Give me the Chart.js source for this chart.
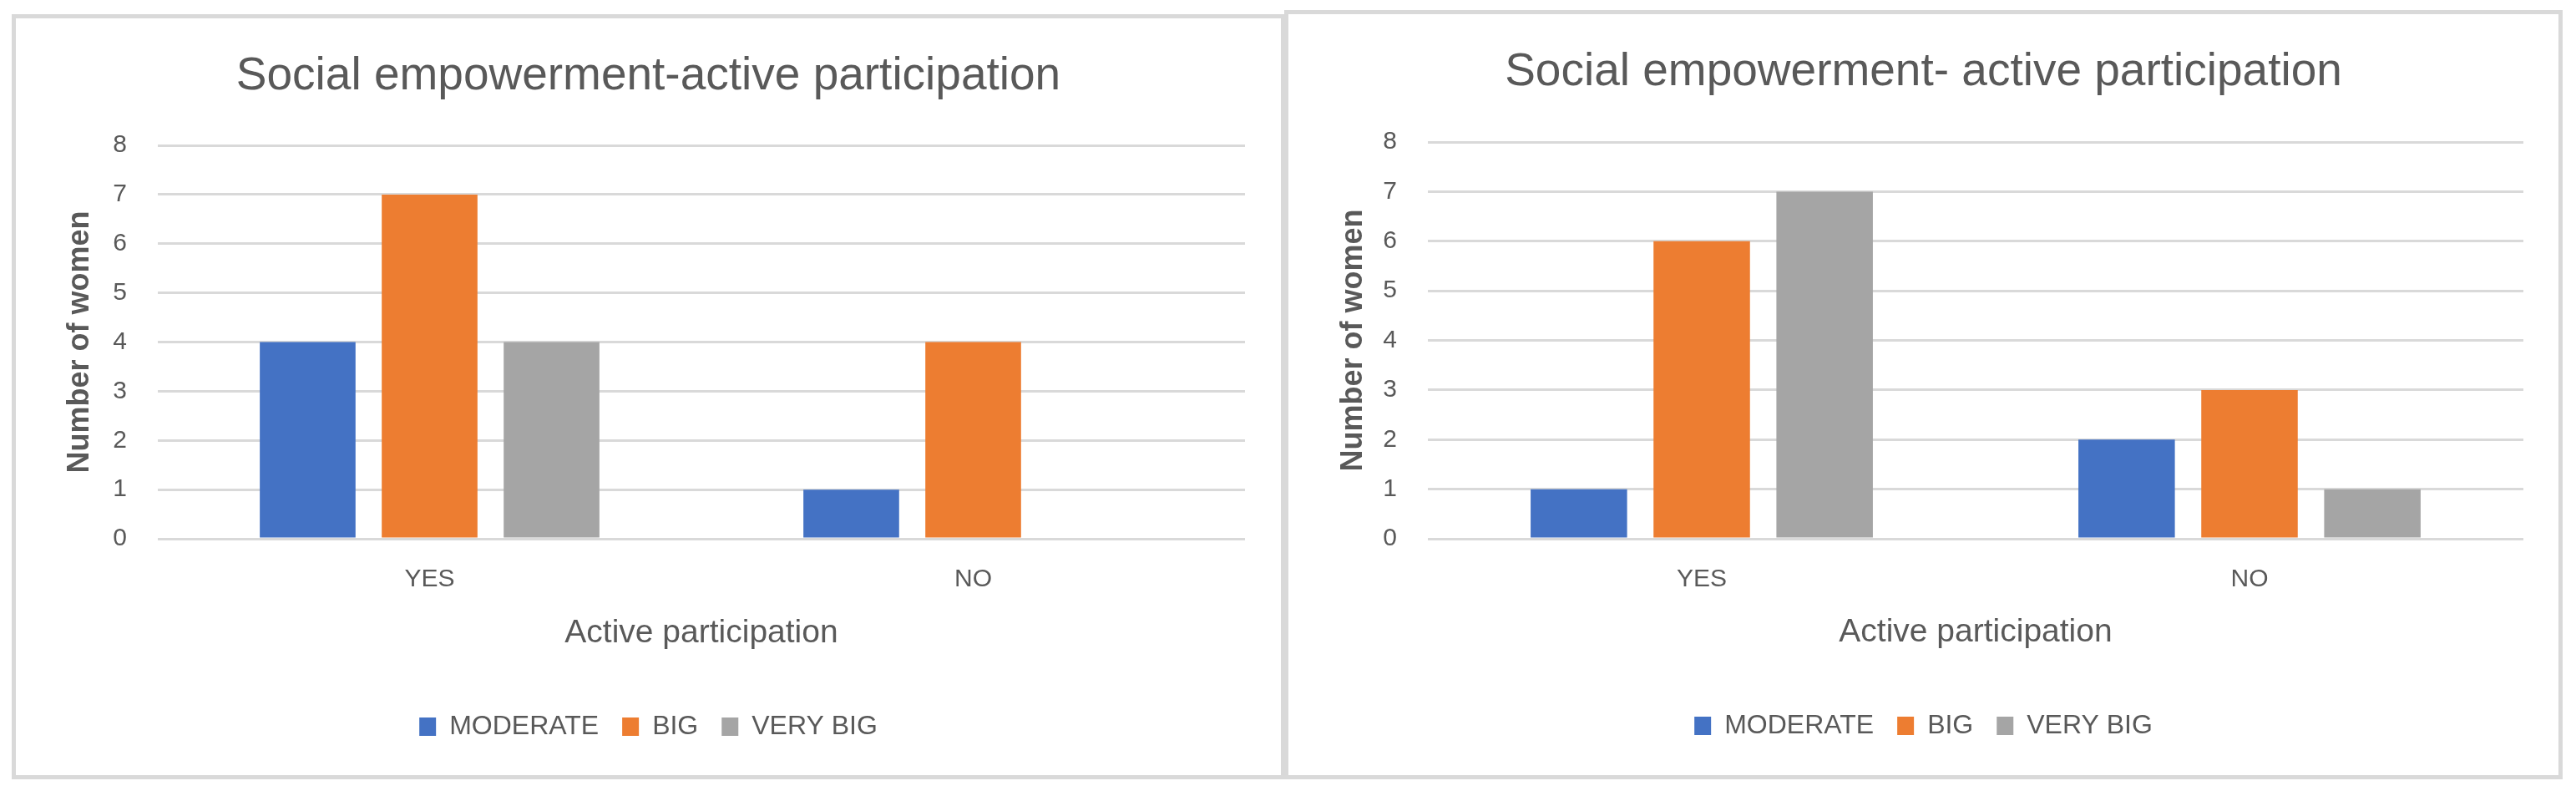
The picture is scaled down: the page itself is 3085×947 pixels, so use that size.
<!DOCTYPE html>
<html>
<head>
<meta charset="utf-8">
<script src="https://cdn.jsdelivr.net/npm/chart.js@4"></script>
<style>
  html, body { margin: 0; padding: 0; background: #ffffff; }
  body { width: 3085px; height: 947px; position: relative; overflow: hidden; }
  .panel { position: absolute; box-sizing: border-box; border: 5px solid #D9D9D9; background: #fff; }
  .panel canvas { position: absolute; left: 0; top: 0; }
</style>
</head>
<body>
<div class="panel" id="p1" style="left:14px; top:17px; width:1525px; height:916px;">
  <canvas id="c1" width="1515" height="906"></canvas>
</div>
<div class="panel" id="p2" style="left:1538px; top:12px; width:1531px; height:921px;">
  <canvas id="c2" width="1521" height="911"></canvas>
</div>
<script>
// ---- data ----
const categories = ['YES', 'NO'];
const seriesNames = ['MODERATE', 'BIG', 'VERY BIG'];
const seriesColors = ['#4472C4', '#ED7D31', '#A5A5A5'];

const title1 = 'Social empowerment-active participation';
const moderate1 = [4, 1];
const big1 = [7, 4];
const veryBig1 = [4, 0];

const title2 = 'Social empowerment- active participation';
const moderate2 = [1, 2];
const big2 = [6, 3];
const veryBig2 = [7, 1];

const yTitle = 'Number of women';
const xTitle = 'Active participation';
const yMin = 0, yMax = 8, yStep = 1;

const FONT = "'Liberation Sans', Arial, sans-serif";
const TXT = '#595959';
const GRID = '#D9D9D9';

function makeChart(id, titleText, values, L) {
  const datasets = values.map((v, i) => ({
    label: seriesNames[i],
    data: v,
    backgroundColor: seriesColors[i],
    borderWidth: 0,
    categoryPercentage: 0.673,
    barPercentage: 0.785
  }));
  return new Chart(document.getElementById(id), {
    type: 'bar',
    data: { labels: categories, datasets },
    options: {
      responsive: false,
      animation: false,
      devicePixelRatio: 1,
      layout: { padding: { left: L.pad, top: 0, right: L.pad, bottom: L.padBottom } },
      plugins: {
        tooltip: { enabled: false },
        title: {
          display: true,
          text: titleText,
          color: TXT,
          font: { family: FONT, size: 55, weight: 'normal', lineHeight: 1.2 },
          padding: { top: L.titleTop, bottom: L.titleBottom }
        },
        legend: {
          display: true,
          position: 'bottom',
          labels: {
            color: TXT,
            font: { family: FONT, size: 32 },
            boxWidth: 20,
            boxHeight: 22,
            padding: L.legPad
          }
        }
      },
      scales: {
        x: {
          grid: { display: false, drawTicks: false },
          border: { display: false },
          ticks: { color: TXT, font: { family: FONT, size: 30 }, padding: 31 },
          title: {
            display: true, text: xTitle, color: TXT,
            font: { family: FONT, size: 39 },
            padding: { top: 0, bottom: L.xTitleBottom }
          },
          afterFit: s => { s.height = L.xHeight; }
        },
        y: {
          min: yMin, max: yMax,
          grid: { color: GRID, lineWidth: 3, drawTicks: false },
          border: { display: false },
          ticks: { stepSize: yStep, color: TXT, font: { family: FONT, size: 30 }, padding: L.yTickPad },
          title: {
            display: true, text: yTitle, color: TXT,
            font: { family: FONT, size: 36, weight: 'bold' },
            padding: { top: L.yTitleTop, bottom: 0 }
          },
          afterFit: s => { s.width = L.yWidth; }
        }
      }
    }
  });
}

const legPad = 28;
makeChart('c1', title1, [moderate1, big1, veryBig1], {
  pad: 43, padBottom: 32,
  titleTop: 37, titleBottom: 49,
  legPad: legPad,
  xHeight: 906 - 32 - (32 + legPad + 10) - 623,
  xTitleBottom: 44,
  yWidth: 127, yTickPad: 37, yTitleTop: 12
});
makeChart('c2', title2, [moderate2, big2, veryBig2], {
  pad: 42, padBottom: 33,
  titleTop: 37, titleBottom: 50,
  legPad: legPad,
  xHeight: 911 - 33 - (32 + legPad + 10) - 628,
  xTitleBottom: 44,
  yWidth: 125, yTickPad: 37, yTitleTop: 14
});
</script>
</body>
</html>
